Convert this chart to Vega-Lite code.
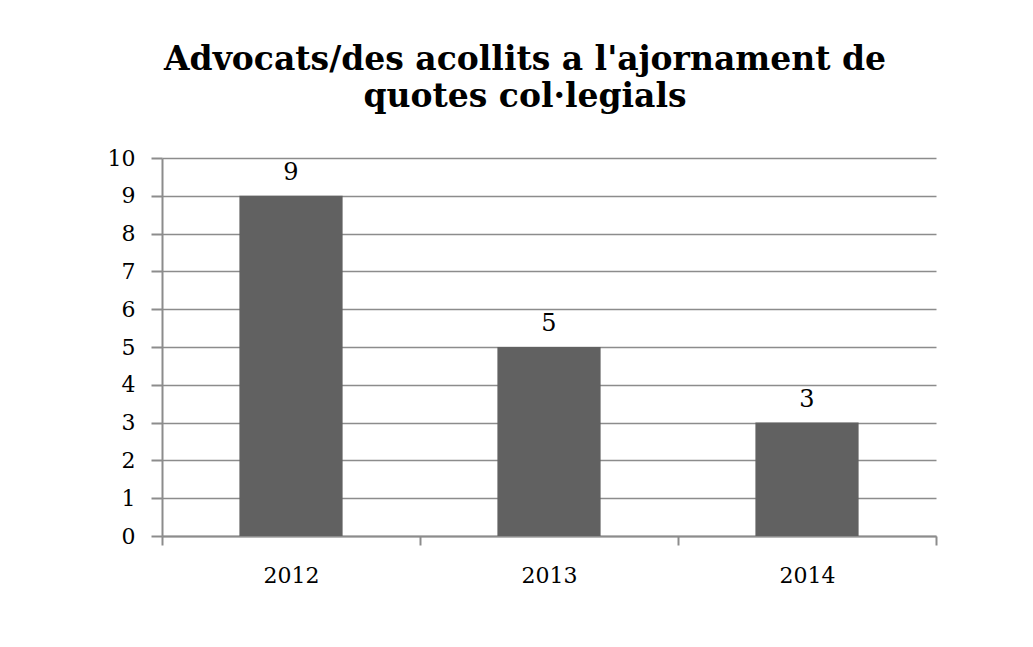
{
  "$schema": "https://vega.github.io/schema/vega-lite/v6.json",
  "autosize": {"type": "none"},
  "width": 774,
  "height": 378,
  "padding": {"left": 162, "top": 158, "right": 97, "bottom": 111},
  "background": "white",
  "title": {
    "text": ["Advocats/des acollits a l'ajornament de", "quotes col·legials"],
    "font": "DejaVu Serif",
    "fontSize": 33,
    "fontWeight": "bold",
    "color": "#000000",
    "anchor": "middle",
    "dx": -24,
    "offset": 33,
    "lineHeight": 37
  },
  "config": {
    "view": {"stroke": null},
    "axis": {
      "labelFont": "DejaVu Serif",
      "labelFontSize": 22,
      "labelColor": "#000000",
      "domainColor": "#8c8c8c",
      "tickColor": "#8c8c8c",
      "gridColor": "#8c8c8c",
      "domainWidth": 2,
      "tickWidth": 2,
      "gridWidth": 1.5
    }
  },
  "data": {
    "values": [
      {"year": "2012", "count": 9},
      {"year": "2013", "count": 5},
      {"year": "2014", "count": 3}
    ]
  },
  "encoding": {
    "x": {
      "field": "year",
      "type": "nominal",
      "scale": {"paddingInner": 0, "paddingOuter": 0},
      "axis": {
        "title": null,
        "labelAngle": 0,
        "tickBand": "extent",
        "tickSize": 9,
        "labelPadding": 20,
        "grid": false
      }
    },
    "y": {
      "field": "count",
      "type": "quantitative",
      "scale": {"domain": [0, 10], "nice": false},
      "axis": {
        "title": null,
        "values": [0, 1, 2, 3, 4, 5, 6, 7, 8, 9, 10],
        "tickSize": 11,
        "labelPadding": 16,
        "grid": true
      }
    }
  },
  "layer": [
    {
      "mark": {"type": "bar", "width": {"band": 0.4}, "color": "#616161"}
    },
    {
      "mark": {
        "type": "text",
        "font": "DejaVu Serif",
        "fontSize": 24,
        "color": "#000000",
        "baseline": "alphabetic",
        "dy": -16
      },
      "encoding": {"text": {"field": "count", "type": "quantitative"}}
    }
  ]
}
